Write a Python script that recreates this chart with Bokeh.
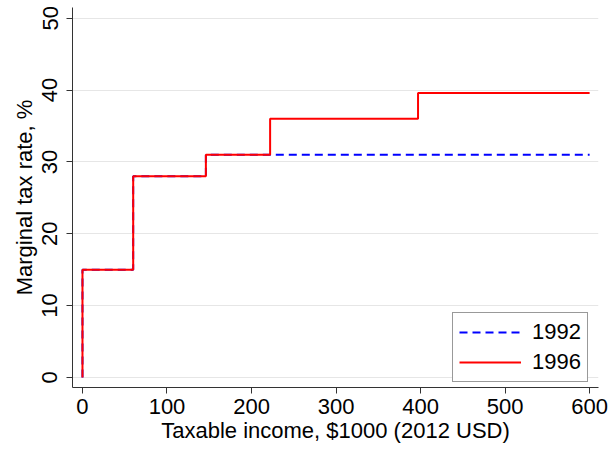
from bokeh.plotting import figure
from bokeh.models import Legend, LegendItem, FixedTicker, Range1d
from bokeh.embed import file_html
from bokeh.resources import INLINE

# Data: step functions (bracket start income in $1000, marginal rate %)
x_1992 = [0, 0, 60, 60, 146, 146, 600]
y_1992 = [0, 15, 15, 28, 28, 31, 31]
x_1996 = [0, 0, 60, 60, 146, 146, 222, 222, 397, 397, 600]
y_1996 = [0, 15, 15, 28, 28, 31, 31, 36, 36, 39.6, 39.6]
x_ticks = [0, 100, 200, 300, 400, 500, 600]
y_ticks = [0, 10, 20, 30, 40, 50]

FONT = "Liberation Sans"
FS = "22px"

p = figure(width=616, height=451, output_backend="svg", toolbar_location=None,
           x_range=Range1d(-11.8, 610.5), y_range=Range1d(-1.4, 51.5),
           min_border_left=72, min_border_right=18, min_border_top=7,
           min_border_bottom=64)
p.outline_line_color = None
p.background_fill_color = "white"
p.border_fill_color = "white"

r92 = p.line(x_1992, y_1992, line_color="#0000ff", line_width=2, line_dash="8 5")
r96 = p.line(x_1996, y_1996, line_color="#ff0000", line_width=2)

p.xgrid.grid_line_color = None
p.ygrid.grid_line_color = "#e6e6e6"
p.ygrid.grid_line_width = 1

for ax in (p.xaxis[0], p.yaxis[0]):
    ax.axis_line_color = "#333333"
    ax.major_tick_line_color = "#333333"
    ax.major_tick_out = 6
    ax.major_tick_in = 0
    ax.minor_tick_line_color = None
    ax.major_label_text_font = FONT
    ax.major_label_text_font_size = FS
    ax.major_label_text_color = "black"
    ax.axis_label_text_font = FONT
    ax.axis_label_text_font_size = FS
    ax.axis_label_text_font_style = "normal"
    ax.axis_label_text_color = "black"

p.xaxis.ticker = FixedTicker(ticks=x_ticks)
p.yaxis.ticker = FixedTicker(ticks=y_ticks)
p.ygrid.ticker = FixedTicker(ticks=y_ticks)
p.xaxis.axis_label = "Taxable income, $1000 (2012 USD)"
p.yaxis.axis_label = "Marginal tax rate, %"
p.yaxis.major_label_orientation = "vertical"
p.xaxis.major_label_standoff = 5
p.yaxis.major_label_standoff = 9
p.xaxis.axis_label_standoff = 1
p.yaxis.axis_label_standoff = 3

legend = Legend(items=[LegendItem(label="1992", renderers=[r92]),
                       LegendItem(label="1996", renderers=[r96])],
                location=(380, 5))
legend.border_line_color = "#333333"
legend.border_line_width = 1
legend.background_fill_color = "white"
legend.background_fill_alpha = 1
legend.label_text_font = FONT
legend.label_text_font_size = FS
legend.label_text_color = "black"
legend.glyph_width = 62
legend.glyph_height = 20
legend.label_standoff = 11
legend.spacing = 4
legend.padding = 6
legend.margin = 0
p.add_layout(legend, "center")

open("out.html", "w").write(file_html(p, INLINE))
